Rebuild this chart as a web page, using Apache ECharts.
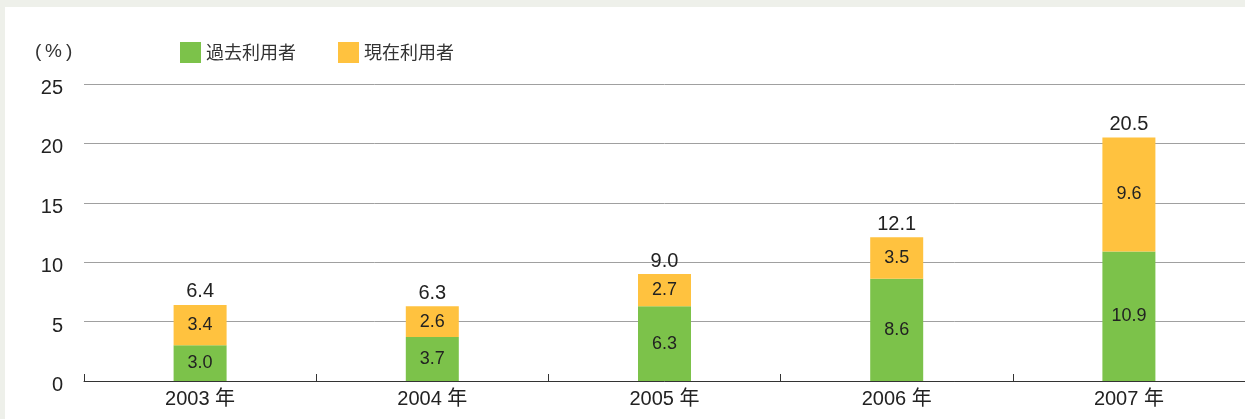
<!DOCTYPE html>
<html><head><meta charset="utf-8">
<script src="https://cdn.jsdelivr.net/npm/echarts@6/dist/echarts.min.js"></script>
<style>
html,body{margin:0;padding:0;background:#eef0ea;width:1245px;height:419px;overflow:hidden;}
#c{position:absolute;left:5px;top:7px;width:1240px;height:412px;background:#fff;}
</style></head>
<body><div id="c"></div>
<script>
const categories = ['2003 年','2004 年','2005 年','2006 年','2007 年'];
const pastUsers = [3.0, 3.7, 6.3, 8.6, 10.9];
const currentUsers = [3.4, 2.6, 2.7, 3.5, 9.6];
const totals = [6.4, 6.3, 9.0, 12.1, 20.5];
const seriesNames = ['過去利用者','現在利用者'];
const yTicks = [0, 25, 5];

const FONT = '"Liberation Sans","Noto Sans CJK JP",sans-serif';
const chart = echarts.init(document.getElementById('c'), null, {renderer:'canvas'});
chart.setOption({
  animation:false,
  textStyle:{fontFamily:FONT},
  grid:{left:79, right:-7, top:77, bottom:38, containLabel:false},
  legend:{
    data:seriesNames, left:175, top:35, padding:0, itemWidth:21, itemHeight:21, itemGap:42,
    icon:'rect',
    textStyle:{fontSize:18, color:'#333', fontFamily:'"Noto Sans CJK JP",sans-serif'}
  },
  graphic:[
    {type:'text', left:30, top:35, style:{text:'(', fontSize:19, fill:'#333', fontFamily:FONT}},
    {type:'text', left:40, top:35, style:{text:'%', fontSize:19, fill:'#333', fontFamily:FONT}},
    {type:'text', left:61, top:35, style:{text:')', fontSize:19, fill:'#333', fontFamily:FONT}}
  ],
  xAxis:{
    type:'category', data:categories,
    axisLine:{lineStyle:{color:'#333', width:1}},
    axisTick:{show:true, inside:true, length:7, lineStyle:{color:'#333'}},
    axisLabel:{fontSize:20, color:'#222', margin:8, fontFamily:FONT}
  },
  yAxis:{
    type:'value', min:yTicks[0], max:yTicks[1], interval:yTicks[2],
    axisLine:{show:false}, axisTick:{show:false},
    axisLabel:{margin:21, formatter:v=>'{a|'+v+'}',
      rich:{a:{fontSize:20, color:'#222', fontFamily:FONT, padding:[9,0,0,0]}}},
    splitLine:{lineStyle:{color:'#a0a0a0', width:1}}
  },
  series:[
    {name:seriesNames[0], type:'bar', stack:'s', barWidth:53, data:pastUsers,
     itemStyle:{color:'#7cc24a'},
     label:{show:true, position:'inside', fontSize:18, color:'#222', formatter:p=>p.value.toFixed(1)}},
    {name:seriesNames[1], type:'bar', stack:'s', barWidth:53, data:currentUsers,
     itemStyle:{color:'#ffc23f'},
     label:{show:true, position:'inside', fontSize:18, color:'#222', formatter:p=>p.value.toFixed(1)}},
    {name:'total', type:'bar', stack:'s', barWidth:53, data:totals.map(()=>0),
     itemStyle:{color:'transparent'},
     label:{show:true, position:'top', distance:3, fontSize:20, color:'#222', formatter:p=>totals[p.dataIndex].toFixed(1)}}
  ]
});
</script></body></html>
